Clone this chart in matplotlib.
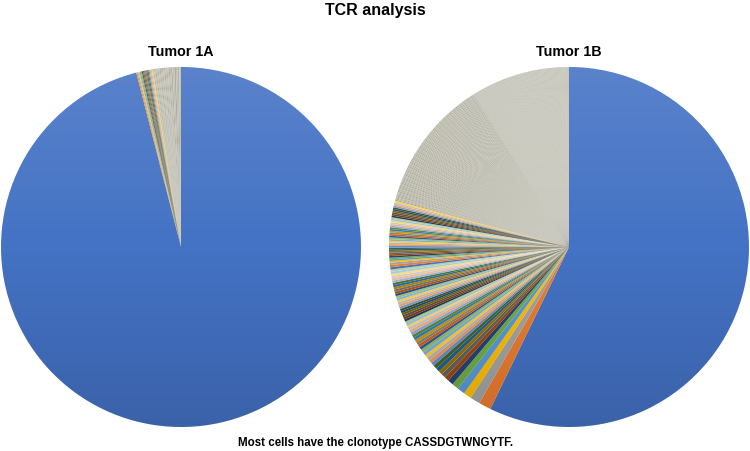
import colorsys
import numpy as np
import matplotlib
matplotlib.use("Agg")
import matplotlib.pyplot as plt
from matplotlib.patches import Circle

# ---------------- data (cells per clonotype) ----------------
title = "TCR analysis"
caption = "Most cells have the clonotype CASSDGTWNGYTF."
pie_titles = ["Tumor 1A", "Tumor 1B"]

# Tumor 1A: dominant clonotype + small clonotypes
tumor_1a_top = [1920, 2, 2, 2, 2, 2, 2, 2, 2, 2, 2, 2, 2, 2, 2, 2, 2, 2, 2, 2, 2,
                2, 2, 2, 2, 2, 2, 2, 2, 2, 2, 2, 3, 3, 3, 3, 3, 3]

# Tumor 1B: larger clonotypes listed individually, tail as (size, number of clones)
tumor_1b_top = [1144, 22, 18, 14, 14, 12, 10, 8, 8, 7, 7, 7, 6, 6, 6, 6, 6, 6,
                5, 5, 5, 5, 5, 5, 5, 5, 5]
tumor_1b_tail_sizes = [4, 3, 2, 1]
tumor_1b_tail_counts = [30, 37, 120, 177]

# ---------------- build series ----------------
tumor_1a = np.array(tumor_1a_top, dtype=float)
tumor_1b = np.concatenate([np.array(tumor_1b_top, dtype=float),
                           np.repeat(tumor_1b_tail_sizes, tumor_1b_tail_counts).astype(float)])

# ---------------- Excel-like palette ----------------
accents = ["#4472C4", "#ED7D31", "#A5A5A5", "#FFC000", "#5B9BD5", "#70AD47"]
variations = [(1.0, 0.0), (0.6, 0.0), (0.8, 0.2), (0.8, 0.0), (0.6, 0.4),
              (0.5, 0.0), (0.7, 0.3), (0.7, 0.0), (0.5, 0.5)]
tail_shades = ["#AEAD9C", "#BCBBAC", "#A7A695", "#B7B6A7"]


def vary(hexc, mod, off):
    r, g, b = matplotlib.colors.to_rgb(hexc)
    h, l, s = colorsys.rgb_to_hls(r, g, b)
    l = min(1.0, max(0.0, l * mod + off))
    return colorsys.hls_to_rgb(h, l, s)


def palette(n, tail_start):
    cols = []
    for i in range(n):
        if i >= tail_start:
            cols.append(tail_shades[i % len(tail_shades)])
        else:
            var = variations[(i // 6) % len(variations)]
            cols.append(vary(accents[i % 6], *var))
    return cols


fig = plt.figure(figsize=(7.5, 4.52), dpi=100)
W, H = 750, 452

centers = [(181, 248), (569, 248)]
R = 180
tail_starts = [16, len(tumor_1b_top) + tumor_1b_tail_counts[0] + tumor_1b_tail_counts[1]]

# vertical shading overlay (lighter top, darker bottom)
shade = np.zeros((256, 4, 4))
t = np.linspace(1, -1, 256)
for k in range(4):
    shade[:, k, :3] = np.where(t[:, None] > 0, 1.0, 0.0)
    shade[:, k, 3] = np.abs(t) * np.where(t > 0, 0.12, 0.14)

for data, (cx, cy), name, ts in zip([tumor_1a, tumor_1b], centers, pie_titles, tail_starts):
    ax = fig.add_axes([(cx - R) / W, (H - cy - R) / H, 2 * R / W, 2 * R / H])
    ax.pie(data, colors=palette(len(data), ts), startangle=90, counterclock=False,
           radius=1, wedgeprops=dict(linewidth=0, antialiased=True))
    ax.set_xlim(-1, 1)
    ax.set_ylim(-1, 1)
    ax.set_aspect("equal")
    ax.axis("off")
    im = ax.imshow(shade, extent=[-1, 1, -1, 1], aspect="auto", zorder=5,
                   interpolation="bilinear")
    clip = Circle((0, 0), 1, transform=ax.transData)
    im.set_clip_path(clip)
    fig.text(cx / W, 1 - 52 / H, name, ha="center", va="center",
             fontsize=10.3, fontweight="bold", family="Liberation Sans")

fig.text(375 / W, 1 - 11 / H, title, ha="center", va="center",
         fontsize=11.5, fontweight="bold", family="Liberation Sans")
fig.text(376 / W, 1 - 443 / H, caption, ha="center", va="center",
         fontsize=8.3, fontweight="bold", family="Liberation Sans")

fig.savefig("out.png", dpi=100)
